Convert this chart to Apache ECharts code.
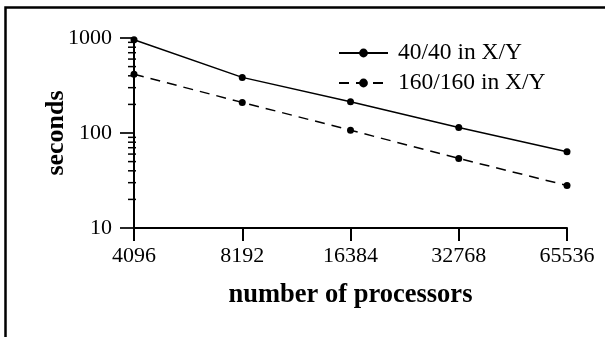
<!DOCTYPE html>
<html>
<head>
<meta charset="utf-8">
<script src="https://cdn.jsdelivr.net/npm/echarts@6/dist/echarts.min.js"></script>
<style>
html,body{margin:0;padding:0;background:#fff;}
#chart{width:605px;height:337px;}
</style>
</head>
<body>
<div id="chart"></div>
<script>
var categories = ['4096', '8192', '16384', '32768', '65536'];
var series40 = [960, 385, 213, 114, 63.5];
var series160 = [415, 210, 107, 54, 28];
var seriesNames = ['40/40 in X/Y', '160/160 in X/Y'];
var minorTickValues = [20, 30, 40, 50, 60, 70, 80, 90, 200, 300, 400, 500, 600, 700, 800, 900];

var FONT = "'Liberation Serif', 'Times New Roman', serif";
var chart = echarts.init(document.getElementById('chart'), null, {renderer: 'canvas'});

chart.setOption({
  animation: false,
  backgroundColor: '#fff',
  textStyle: {fontFamily: FONT},
  graphic: [{
    type: 'rect',
    shape: {x: 5.5, y: 7.5, width: 1000, height: 1000},
    style: {fill: 'none', stroke: '#000', lineWidth: 2.5},
    silent: true,
    z: 100
  }],
  grid: {left: 134, right: 38, top: 38, bottom: 109, containLabel: false},
  legend: {
    orient: 'vertical',
    left: 338,
    top: 41,
    padding: 0,
    itemWidth: 49,
    itemHeight: 11,
    itemGap: 6,
    data: seriesNames,
    textStyle: {fontFamily: FONT, fontSize: 23.5, color: '#000', lineHeight: 23, padding: [0, 0, 0, 5]}
  },
  xAxis: {
    type: 'category',
    data: categories,
    boundaryGap: false,
    name: 'number of processors',
    nameLocation: 'middle',
    nameGap: 54,
    nameMoveOverlap: false,
    nameTextStyle: {fontFamily: FONT, fontSize: 26.5, fontWeight: 'bold', color: '#000'},
    axisLine: {lineStyle: {color: '#000', width: 2}},
    axisTick: {show: true, alignWithLabel: true, length: 13, lineStyle: {color: '#000', width: 2}},
    axisLabel: {fontFamily: FONT, fontSize: 22, color: '#000', margin: 17},
    splitLine: {show: false}
  },
  yAxis: {
    type: 'log',
    logBase: 10,
    min: 10,
    max: 1000,
    name: 'seconds',
    nameLocation: 'middle',
    nameGap: 65,
    nameMoveOverlap: false,
    nameTextStyle: {fontFamily: FONT, fontSize: 26, fontWeight: 'bold', color: '#000'},
    axisLine: {show: true, lineStyle: {color: '#000', width: 2}},
    axisTick: {show: true, length: 14, lineStyle: {color: '#000', width: 1.7}},
    axisLabel: {fontFamily: FONT, fontSize: 22, color: '#000', margin: 22,
      formatter: function (v) { return String(Math.round(v)); }},
    splitLine: {show: false},
    minorTick: {show: false}
  },
  series: [
    {
      name: seriesNames[0],
      type: 'line',
      data: series40,
      symbol: 'circle',
      symbolSize: 7,
      color: '#000',
      lineStyle: {color: '#000', width: 1.5, type: 'solid'},
      itemStyle: {color: '#000'},
      z: 5
    },
    {
      name: seriesNames[1],
      type: 'line',
      data: series160,
      symbol: 'circle',
      symbolSize: 7,
      color: '#000',
      lineStyle: {color: '#000', width: 1.5, type: [10, 7]},
      itemStyle: {color: '#000'},
      z: 5
    },
    {
      name: 'minorTicks',
      type: 'custom',
      silent: true,
      clip: false,
      data: minorTickValues.map(function (v) { return [0, v]; }),
      renderItem: function (params, api) {
        var p = api.coord([0, api.value(1)]);
        return {
          type: 'line',
          shape: {x1: p[0] - 6, y1: p[1], x2: p[0] + 2, y2: p[1]},
          style: {stroke: '#000', lineWidth: 1.5}
        };
      },
      z: 3
    }
  ]
});
</script>
</body>
</html>
